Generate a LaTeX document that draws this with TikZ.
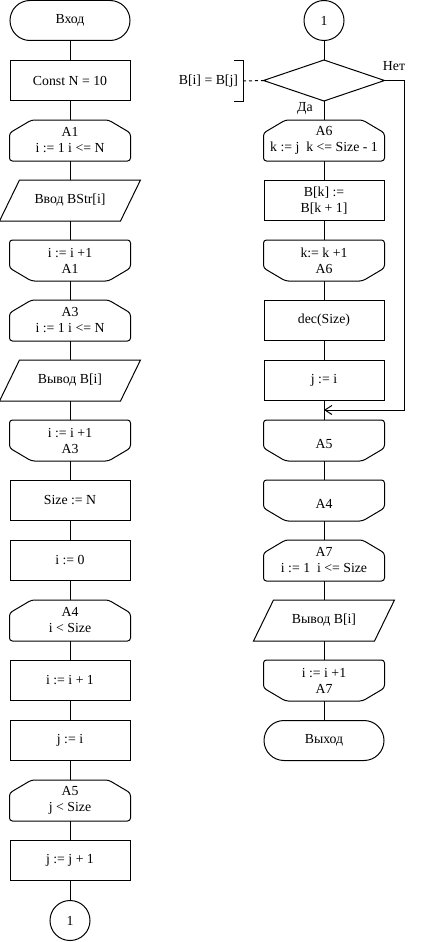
\documentclass[tikz,border=0pt]{standalone}
\usepackage{fontspec}
\setmainfont{Liberation Serif}
\usetikzlibrary{arrows.meta}
\begin{document}
\begin{tikzpicture}[x=1pt,y=-1pt, line width=1pt,
  txt/.style={font=\fontsize{13.8}{16}\selectfont},
  box/.style={txt, minimum width=120pt, minimum height=40pt, inner sep=0pt, align=center},
  proc/.style={box, draw},
  term/.style={box, draw, rounded corners=20pt},
  plainbox/.style={box},
  conn/.style={txt, draw, circle, minimum size=40pt, inner sep=0pt},
  outline/.style={draw, line width=1pt, rounded corners=3pt},
  link/.style={draw, line width=1pt}
]
\useasboundingbox (0,0) rectangle (425,942);

% left column
\node[term]     (l0)  at (70,20.5)  {Вход};
\node[proc]     (l1)  at (70,80.5)  {Const N = 10};
\node[plainbox] (l2)  at (70,140.5) {A1\\i := 1 i <= N};
\node[plainbox] (l3)  at (70,200.5) {Ввод BStr[i]};
\node[plainbox] (l4)  at (70,260.5) {i := i +1\\A1};
\node[plainbox] (l5)  at (70,320.5) {A3\\i := 1 i <= N};
\node[plainbox] (l6)  at (70,380.5) {Вывод B[i]};
\node[plainbox] (l7)  at (70,440.5) {i := i +1\\A3};
\node[proc]     (l8)  at (70,500.5) {Size := N};
\node[proc]     (l9)  at (70,560.5) {i := 0};
\node[plainbox] (l10) at (70,620.5) {A4\\i < Size};
\node[proc]     (l11) at (70,680.5) {i := i + 1};
\node[proc]     (l12) at (70,740.5) {j := i};
\node[plainbox] (l13) at (70,800.5) {A5\\j < Size};
\node[proc]     (l14) at (70,860.5) {j := j + 1};
\node[conn]     (l15) at (70,920.5) {1};

% right column
\node[conn]     (r0)  at (324,20.5)  {1};
\node[plainbox] (r1)  at (324,80.5)  {};
\node[plainbox] (r2)  at (324,140.5) {A6\\k := j\ \ k <= Size - 1};
\node[proc]     (r3)  at (324,200.5) {B[k] :=\\B[k + 1]};
\node[plainbox] (r4)  at (324,260.5) {k:= k +1\\A6};
\node[proc]     (r5)  at (324,320.5) {dec(Size)};
\node[proc]     (r6)  at (324,380.5) {j := i};
\node[plainbox] (r7)  at (324,440.5) {\mbox{}\\A5};
\node[plainbox] (r8)  at (324,500.5) {\mbox{}\\A4};
\node[plainbox] (r9)  at (324,560.5) {A7\\i := 1\ \ i <= Size};
\node[plainbox] (r10) at (324,620.5) {Вывод B[i]};
\node[plainbox] (r11) at (324,680.5) {i := i +1\\A7};
\node[term]     (r12) at (324,740.5) {Выход};

% loop start outlines
\foreach \n in {l2,l5,l10,l13,r2,r9}
  \draw[outline] ([xshift=22pt]\n.north west) -- ([xshift=-22pt]\n.north east)
    -- ([yshift=-13pt]\n.north east) -- (\n.south east) -- (\n.south west)
    -- ([yshift=-13pt]\n.north west) -- cycle;
% loop end outlines
\foreach \n in {l4,l7,r4,r7,r8,r11}
  \draw[outline] (\n.north west) -- (\n.north east) -- ([yshift=13pt]\n.south east)
    -- ([xshift=-22pt]\n.south east) -- ([xshift=22pt]\n.south west)
    -- ([yshift=13pt]\n.south west) -- cycle;
% parallelograms
\foreach \n in {l3,l6,r10}
  \draw[link] ([xshift=10pt]\n.north west) -- ([xshift=10pt]\n.north east)
    -- ([xshift=-10pt]\n.south east) -- ([xshift=-10pt]\n.south west) -- cycle;
% decision
\draw[link] (r1.north) -- (r1.east) -- (r1.south) -- (r1.west) -- cycle;

% connectors
\foreach \a/\b in {l0/l1,l1/l2,l2/l3,l3/l4,l4/l5,l5/l6,l6/l7,l7/l8,l8/l9,l9/l10,
                   l10/l11,l11/l12,l12/l13,l13/l14,l14/l15,
                   r0/r1,r1/r2,r2/r3,r3/r4,r4/r5,r5/r6,r6/r7,r7/r8,r8/r9,r9/r10,r10/r11,r11/r12}
  \draw[link] (\a.south) -- (\b.north);

% "No" branch
\coordinate (merge) at (324,410);
\coordinate (ncorner) at (404,410);
\draw[link, -{Straight Barb[length=7pt,width=9pt]}] (r1.east) -| (ncorner) -- (merge);
\node[txt] (no) at (394,66) {Нет};
\node[txt] (yes) at (305,108) {Да};

% annotation
\node[txt, anchor=east, inner sep=0pt] (ann) at (238.5,81) {B[i] = B[j]};
\coordinate (bt) at (243,61);
\coordinate (bb) at (243,101);
\coordinate (bm) at (243,81);
\draw[link] ([xshift=-9pt]bt) -- (bt) -- (bb) -- ([xshift=-9pt]bb);
\draw[link, dash pattern=on 3pt off 3pt] (bm) -- (r1.west);
\end{tikzpicture}
\end{document}
